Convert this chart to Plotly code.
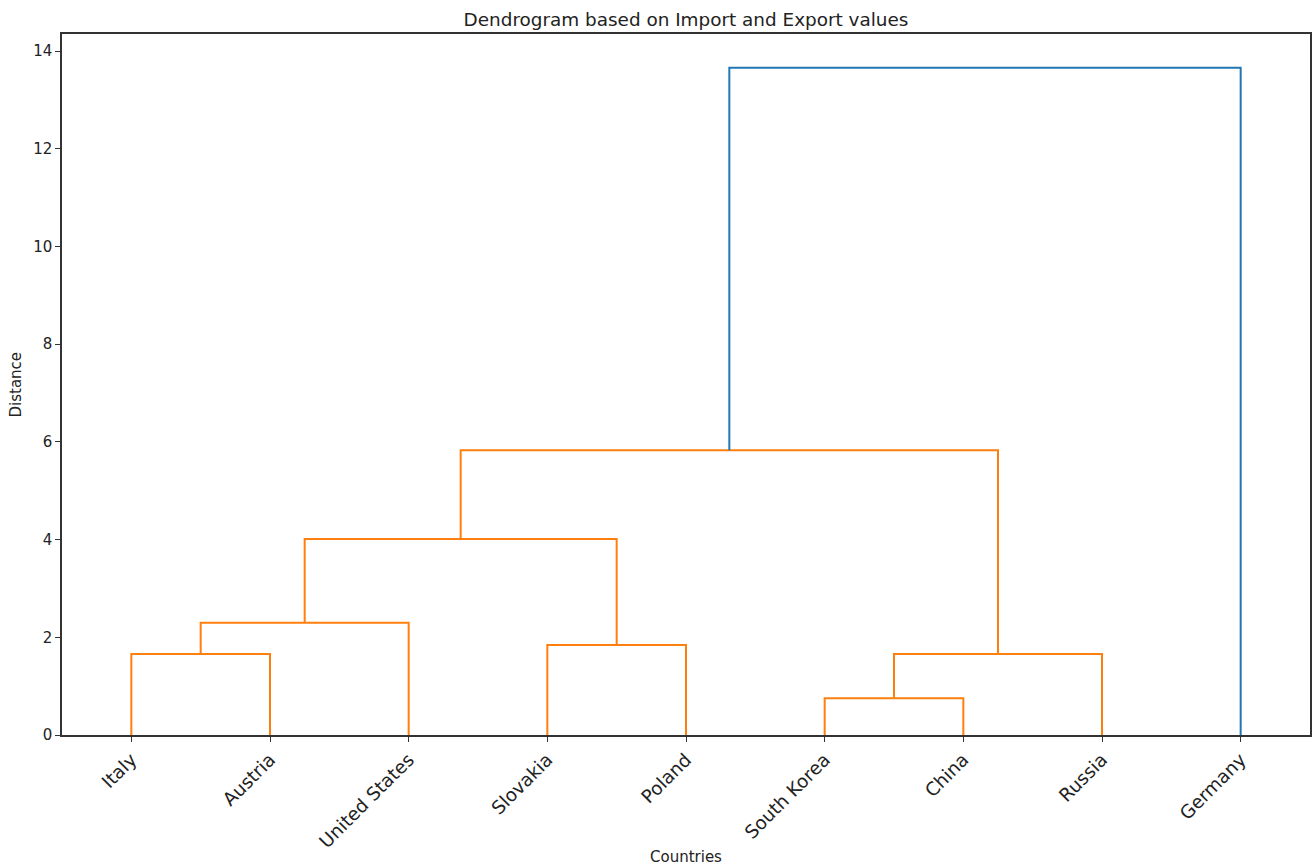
import plotly.graph_objects as go

# Leaf labels in dendrogram order
countries = ["Italy", "Austria", "United States", "Slovakia", "Poland",
             "South Korea", "China", "Russia", "Germany"]

# Linkage: (left node, right node, merge distance); new nodes numbered from len(countries)
link_left = [0, 9, 3, 10, 5, 13, 12, 15]
link_right = [1, 2, 4, 11, 6, 7, 14, 8]
link_height = [1.66, 2.30, 1.84, 4.01, 0.75, 1.66, 5.83, 13.66]

y_ticks = [0, 2, 4, 6, 8, 10, 12, 14]

COLOR_CLUSTER = "#ff7f0e"
COLOR_ABOVE = "#1f77b4"
threshold = 0.7 * max(link_height)

# positions of nodes (scipy convention: leaves at 5, 15, 25, ...)
n = len(countries)
node_x = {i: 5 + 10 * i for i in range(n)}
node_y = {i: 0.0 for i in range(n)}

fig = go.Figure()
for k, (a, b, h) in enumerate(zip(link_left, link_right, link_height)):
    xa, xb = node_x[a], node_x[b]
    ya, yb = node_y[a], node_y[b]
    col = COLOR_CLUSTER if h < threshold else COLOR_ABOVE
    fig.add_trace(go.Scatter(
        x=[xa, xa, xb, xb], y=[ya, h, h, yb], mode="lines",
        line=dict(color=col, width=2), hoverinfo="skip", showlegend=False))
    node_x[n + k] = (xa + xb) / 2
    node_y[n + k] = h

font_family = "DejaVu Sans"
fig.update_layout(
    width=1314, height=866,
    margin=dict(l=62, r=4, t=34, b=131),
    paper_bgcolor="white", plot_bgcolor="white",
    font=dict(family=font_family, color="#222222", size=15),
    title=dict(text="Dendrogram based on Import and Export values",
               x=(62 + 1310) / 2 / 1314, xanchor="center",
               y=1 - 20 / 866, yanchor="middle", yref="container",
               font=dict(size=18.4, color="#222222", family=font_family)),
    showlegend=False,
)
fig.update_xaxes(
    range=[0, 10 * n], tickmode="array",
    tickvals=[5 + 10 * i for i in range(n)], ticktext=countries,
    tickangle=-45, ticks="outside", ticklen=5, tickcolor="#333333",
    showgrid=False, zeroline=False, automargin=False,
    showline=True, linecolor="#333333", linewidth=1.5, mirror=True,
    tickfont=dict(size=18.4, color="#222222"),
)
fig.update_yaxes(
    range=[0, 14.35], tickmode="array", tickvals=y_ticks,
    ticks="outside", ticklen=5, tickcolor="#333333",
    showgrid=False, zeroline=False, automargin=False,
    showline=True, linecolor="#333333", linewidth=1.5, mirror=True,
    tickfont=dict(size=15, color="#222222"),
)
fig.add_annotation(text="Distance", xref="paper", yref="paper",
                   x=-(62 - 15) / 1248, y=0.5, xanchor="center", yanchor="middle",
                   textangle=-90, showarrow=False,
                   font=dict(size=15, color="#222222", family=font_family))
fig.add_annotation(text="Countries", xref="paper", yref="paper",
                   x=0.5, y=(735 - 857) / 701, xanchor="center", yanchor="middle",
                   showarrow=False,
                   font=dict(size=15, color="#222222", family=font_family))

fig.write_html("out.html", config={"displayModeBar": False},
               post_script="document.body.style.margin='0';document.body.style.padding='0';")
